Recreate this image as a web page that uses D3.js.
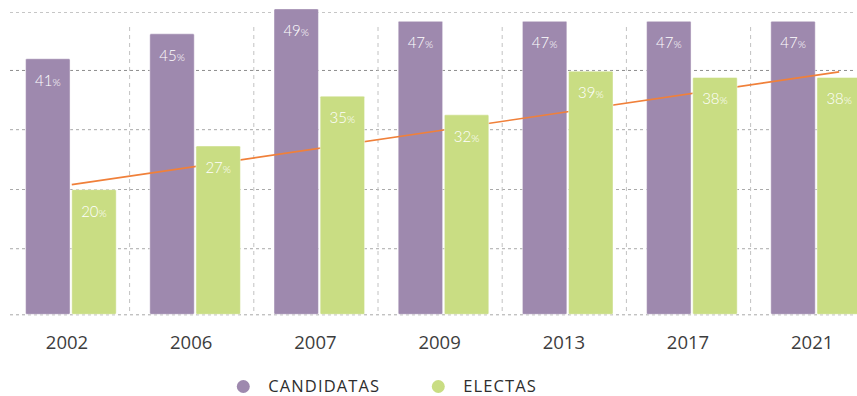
<!DOCTYPE html>
<html>
<head>
<meta charset="utf-8">
<script src="https://cdn.jsdelivr.net/npm/d3@7"></script>
<style>
  html, body { margin: 0; padding: 0; background: #ffffff; }
  svg { display: block; }
</style>
</head>
<body>
<svg id="chart" width="857" height="396"></svg>
<script>
// Election years and the share of women (%) among candidates and elected members
const categories = ["2002", "2006", "2007", "2009", "2013", "2017", "2021"];
const candidatas = [41, 45, 49, 47, 47, 47, 47];
const electas = [20, 27, 35, 32, 39, 38, 38];
// Trend line for ELECTAS: value at the first and at the last year
const trendValues = [20.8, 38.9];
// Horizontal guide levels (%)
const gridValues = [0, 10.6, 20.1, 29.7, 39.2, 48.5];
const seriesNames = ["CANDIDATAS", "ELECTAS"];

const colors = { CANDIDATAS: "#9e89ae", ELECTAS: "#c9dd83" };
const trendColor = "#f0803a";

const svg = d3.select("#chart");

const x = d3.scaleBand().domain(categories).range([8.9, 878.3]).padding(0);
const xs = d3.scaleBand().domain(seriesNames).range([-45.4, 45.2]).paddingInner(0.037);
const y = d3.scaleLinear().domain([0, 48.5]).range([314.3, 12]);

const center = d => x(d) + x.bandwidth() / 2;

// Horizontal dashed guides
const gridAxis = d3.axisLeft(y).tickValues(gridValues).tickSize(845).tickFormat("");
const grid = svg.append("g").attr("transform", "translate(853,0)").call(gridAxis);
grid.select(".domain").remove();
grid.selectAll(".tick line")
  .attr("stroke", (d, i) => i === gridValues.length - 1 ? "#c6c6c6" : (i === 4 ? "#8e8e8e" : "#a9a9a9"))
  .attr("stroke-width", 1)
  .attr("stroke-dasharray", "3,3");

// Vertical dashed separators between years
svg.append("g").selectAll("line")
  .data(categories.slice(1))
  .join("line")
  .attr("x1", d => x(d) - 3.5)
  .attr("x2", d => x(d) - 3.5)
  .attr("y1", 27)
  .attr("y2", y(0))
  .attr("stroke", "#c2c2c2")
  .attr("stroke-width", 1)
  .attr("stroke-dasharray", "4,4");

const rows = categories.map((c, i) => ({ c, CANDIDATAS: candidatas[i], ELECTAS: electas[i] }));

function drawBars(series) {
  return svg.append("g").selectAll("rect")
    .data(rows)
    .join("rect")
    .attr("x", d => center(d.c) + xs(series))
    .attr("y", d => y(d[series]))
    .attr("width", xs.bandwidth())
    .attr("height", d => y(0) - y(d[series]))
    .attr("rx", 1.2)
    .attr("fill", colors[series])
    .attr("stroke", "rgba(255,255,255,0.45)")
    .attr("stroke-width", 1);
}

drawBars("CANDIDATAS");

// Linear trend of ELECTAS (sits above the purple bars, beneath the green ones)
const first = categories[0], last = categories[categories.length - 1];
svg.append("line")
  .attr("x1", center(first) + xs("ELECTAS"))
  .attr("y1", y(trendValues[0]))
  .attr("x2", center(last) + xs("ELECTAS") + xs.bandwidth() / 2)
  .attr("y2", y(trendValues[1]))
  .attr("stroke", trendColor)
  .attr("stroke-width", 1.6);

drawBars("ELECTAS");

// Value labels inside the bars
const labels = svg.append("g")
  .attr("font-family", "Lato, 'Open Sans', sans-serif")
  .attr("font-weight", 300)
  .attr("fill", "#ffffff")
  .attr("text-anchor", "middle");

seriesNames.forEach(series => {
  labels.selectAll(null)
    .data(rows)
    .join("text")
    .attr("x", d => center(d.c) + xs(series) + xs.bandwidth() / 2)
    .attr("y", d => y(d[series]) + 27)
    .attr("font-size", 15)
    .each(function (d) {
      const t = d3.select(this);
      t.append("tspan").text(d[series]);
      t.append("tspan").attr("font-size", 10.5).text("%");
    });
});

// Year axis
const xAxis = d3.axisBottom(x).tickSize(0).tickPadding(0);
const xg = svg.append("g").attr("transform", `translate(0,${y(0)})`).call(xAxis);
xg.select(".domain").remove();
xg.selectAll(".tick text")
  .attr("x", -4)
  .attr("y", 35)
  .attr("dy", 0)
  .attr("font-family", "'Open Sans', sans-serif")
  .attr("font-size", 18.5)
  .attr("fill", "#3d3d3d");

// Legend
const legendX = { CANDIDATAS: 243.3, ELECTAS: 438.3 };
const legend = svg.append("g");
seriesNames.forEach(series => {
  legend.append("circle")
    .attr("cx", legendX[series])
    .attr("cy", 386.5)
    .attr("r", 6.5)
    .attr("fill", colors[series]);
  legend.append("text")
    .attr("x", legendX[series] + 25)
    .attr("y", 392)
    .attr("font-family", "'Open Sans', sans-serif")
    .attr("font-size", 16.5)
    .attr("letter-spacing", 1.1)
    .attr("fill", "#2e2e2e")
    .text(series);
});
</script>
</body>
</html>
